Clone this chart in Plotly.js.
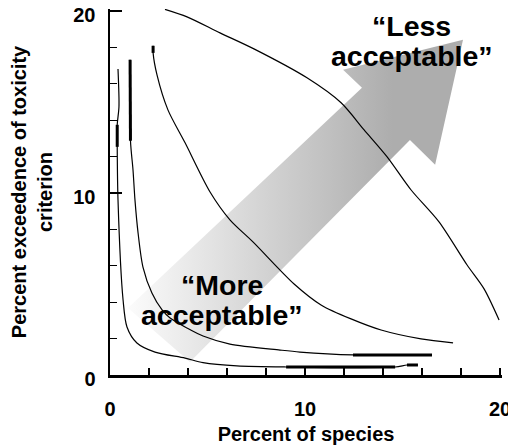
<!DOCTYPE html>
<html>
<head>
<meta charset="utf-8">
<script src="https://cdn.plot.ly/plotly-3.0.1.min.js"></script>
<style>html,body{margin:0;padding:0;background:#fff;}</style>
</head>
<body>
<div id="chart" style="width:508px;height:445px;"></div>
<script>
// ---- Data (percent of species vs percent exceedence) ----
const curveA_x = [2.82, 3.95, 5.64, 7.38, 10.10, 11.85, 13.03, 14.21, 15.44, 16.87, 18.31, 19.18, 19.95];
const curveA_y = [20.08, 19.67, 18.79, 17.91, 16.32, 14.95, 13.46, 11.98, 10.16, 8.41, 6.04, 4.73, 3.02];

const curveB_x = [2.21, 2.21, 2.41, 2.97, 3.85, 5.13, 6.15, 7.33, 9.44, 10.82, 12.36, 13.90, 15.95, 17.59];
const curveB_y = [18.08, 17.69, 16.48, 14.56, 12.75, 10.05, 8.52, 7.31, 5.00, 3.85, 3.08, 2.47, 1.98, 1.76];
const curveB_thick_x = [2.21, 2.21];
const curveB_thick_y = [18.08, 17.69];

const curveC_x = [1.03, 1.05, 1.18, 1.28, 1.44, 1.69, 2.15, 2.67, 3.08, 3.95, 4.77, 6.15, 8.72, 9.74, 12.46, 16.51];
const curveC_y = [17.31, 12.86, 11.26, 9.62, 7.80, 5.93, 4.50, 3.57, 3.13, 2.58, 2.14, 1.70, 1.37, 1.26, 1.10, 1.10];
const curveC_thick1_x = [1.03, 1.05];
const curveC_thick1_y = [17.31, 12.86];
const curveC_thick2_x = [12.46, 16.51];
const curveC_thick2_y = [1.10, 1.10];

const curveD_x = [0.41, 0.46, 0.37, 0.37, 0.41, 0.67, 0.87, 1.38, 2.31, 3.85, 4.77, 6.51, 9.03, 14.62, 15.23, 15.79];
const curveD_y = [16.81, 14.73, 13.74, 12.53, 9.62, 4.12, 2.64, 1.76, 1.26, 0.93, 0.68, 0.50, 0.44, 0.44, 0.55, 0.55];
const curveD_thick1_x = [0.37, 0.37];
const curveD_thick1_y = [13.74, 12.53];
const curveD_thick2_x = [9.03, 14.62];
const curveD_thick2_y = [0.44, 0.44];
const curveD_thick3_x = [15.23, 15.79];
const curveD_thick3_y = [0.55, 0.55];

// tick labels
const xTickVals = [0, 10, 20];
const xTickText = ['<b>0</b>', '<b>10</b>', '<b>20</b>'];
const yTickVals = [0, 10, 20];
const yTickText = ['<b>0</b>', '<b>10</b>', '<b>20</b>'];

// ---- Decorative arrow outline (axis units) ----
const arrow_x = [0.92, 4.10, 15.38, 16.67, 18.10, 11.95, 12.92, 0.92];
const arrow_y = [3.68, 0.71, 12.91, 11.54, 18.41, 16.76, 15.77, 3.68];

const FONT = 'Liberation Sans, Arial, Helvetica, sans-serif';

function thin(x, y) {
  return {x: x, y: y, type: 'scatter', mode: 'lines',
    line: {color: '#000', width: 1.2, shape: 'spline', smoothing: 0.8},
    hoverinfo: 'skip', showlegend: false};
}
function thick(x, y) {
  return {x: x, y: y, type: 'scatter', mode: 'lines',
    line: {color: '#000', width: 3}, hoverinfo: 'skip', showlegend: false};
}

const traces = [
  {x: arrow_x, y: arrow_y, type: 'scatter', mode: 'lines', fill: 'toself',
   line: {width: 0, color: 'rgba(0,0,0,0)'},
   fillgradient: {type: 'horizontal', start: 1, stop: 14.5,
     colorscale: [[0, '#fbfbfb'], [1, '#adadad']]},
   hoverinfo: 'skip', showlegend: false},
  thin(curveA_x, curveA_y),
  thin(curveB_x, curveB_y),
  thick(curveB_thick_x, curveB_thick_y),
  thin(curveC_x, curveC_y),
  thick(curveC_thick1_x, curveC_thick1_y),
  thick(curveC_thick2_x, curveC_thick2_y),
  thin(curveD_x, curveD_y),
  thick(curveD_thick1_x, curveD_thick1_y),
  thick(curveD_thick2_x, curveD_thick2_y),
  thick(curveD_thick3_x, curveD_thick3_y)
];

const annFont = {family: FONT, size: 28.5, color: '#000', weight: 'bold'};
function ann(text, x, y) {
  return {text: '<b>' + text + '</b>', x: x, y: y, xref: 'x', yref: 'y', showarrow: false,
    xanchor: 'center', yanchor: 'middle', font: annFont};
}

const layout = {
  width: 508, height: 445,
  margin: {l: 110, r: 6, t: 9, b: 70},
  paper_bgcolor: '#fff', plot_bgcolor: '#fff',
  showlegend: false,
  xaxis: {
    range: [0, 20.1], showgrid: false, zeroline: false,
    showline: true, linecolor: '#000', linewidth: 2.5,
    ticks: 'inside', ticklen: 7, tickwidth: 1.5, tickcolor: '#000',
    tickmode: 'array', tickvals: xTickVals, ticktext: xTickText,
    ticklabelstandoff: 14, ticklabeloverflow: 'allow',
    tickfont: {family: FONT, size: 20, color: '#000', weight: 'bold'},
    minor: {tickmode: 'linear', tick0: 0, dtick: 2, ticks: 'inside', ticklen: 7, tickwidth: 1.5, tickcolor: '#000'},
    title: {text: '<b>Percent of species</b>', standoff: 20,
      font: {family: FONT, size: 20, color: '#000', weight: 'bold'}},
    fixedrange: true
  },
  yaxis: {
    range: [0, 20.1], showgrid: false, zeroline: false,
    showline: true, linecolor: '#000', linewidth: 2.5,
    ticks: 'inside', ticklen: 12, tickwidth: 1.5, tickcolor: '#000',
    tickmode: 'array', tickvals: yTickVals, ticktext: yTickText,
    ticklabelstandoff: 8, ticklabelshift: 4, ticklabeloverflow: 'allow',
    tickfont: {family: FONT, size: 20, color: '#000', weight: 'bold'},
    minor: {tickmode: 'linear', tick0: 0, dtick: 2, ticks: 'inside', ticklen: 7, tickwidth: 1, tickcolor: '#000'},
    title: {text: '<b>Percent exceedence of toxicity<br>criterion</b>', standoff: 16,
      font: {family: FONT, size: 20, color: '#000', weight: 'bold'}},
    fixedrange: true
  },
  annotations: [
    ann('\u201CLess', 15.46, 19.15),
    ann('acceptable\u201D', 15.5, 17.5),
    ann('\u201CMore', 5.74, 4.95),
    ann('acceptable\u201D', 5.74, 3.3)
  ]
};

Plotly.newPlot('chart', traces, layout, {staticPlot: true, displayModeBar: false});
</script>
</body>
</html>
